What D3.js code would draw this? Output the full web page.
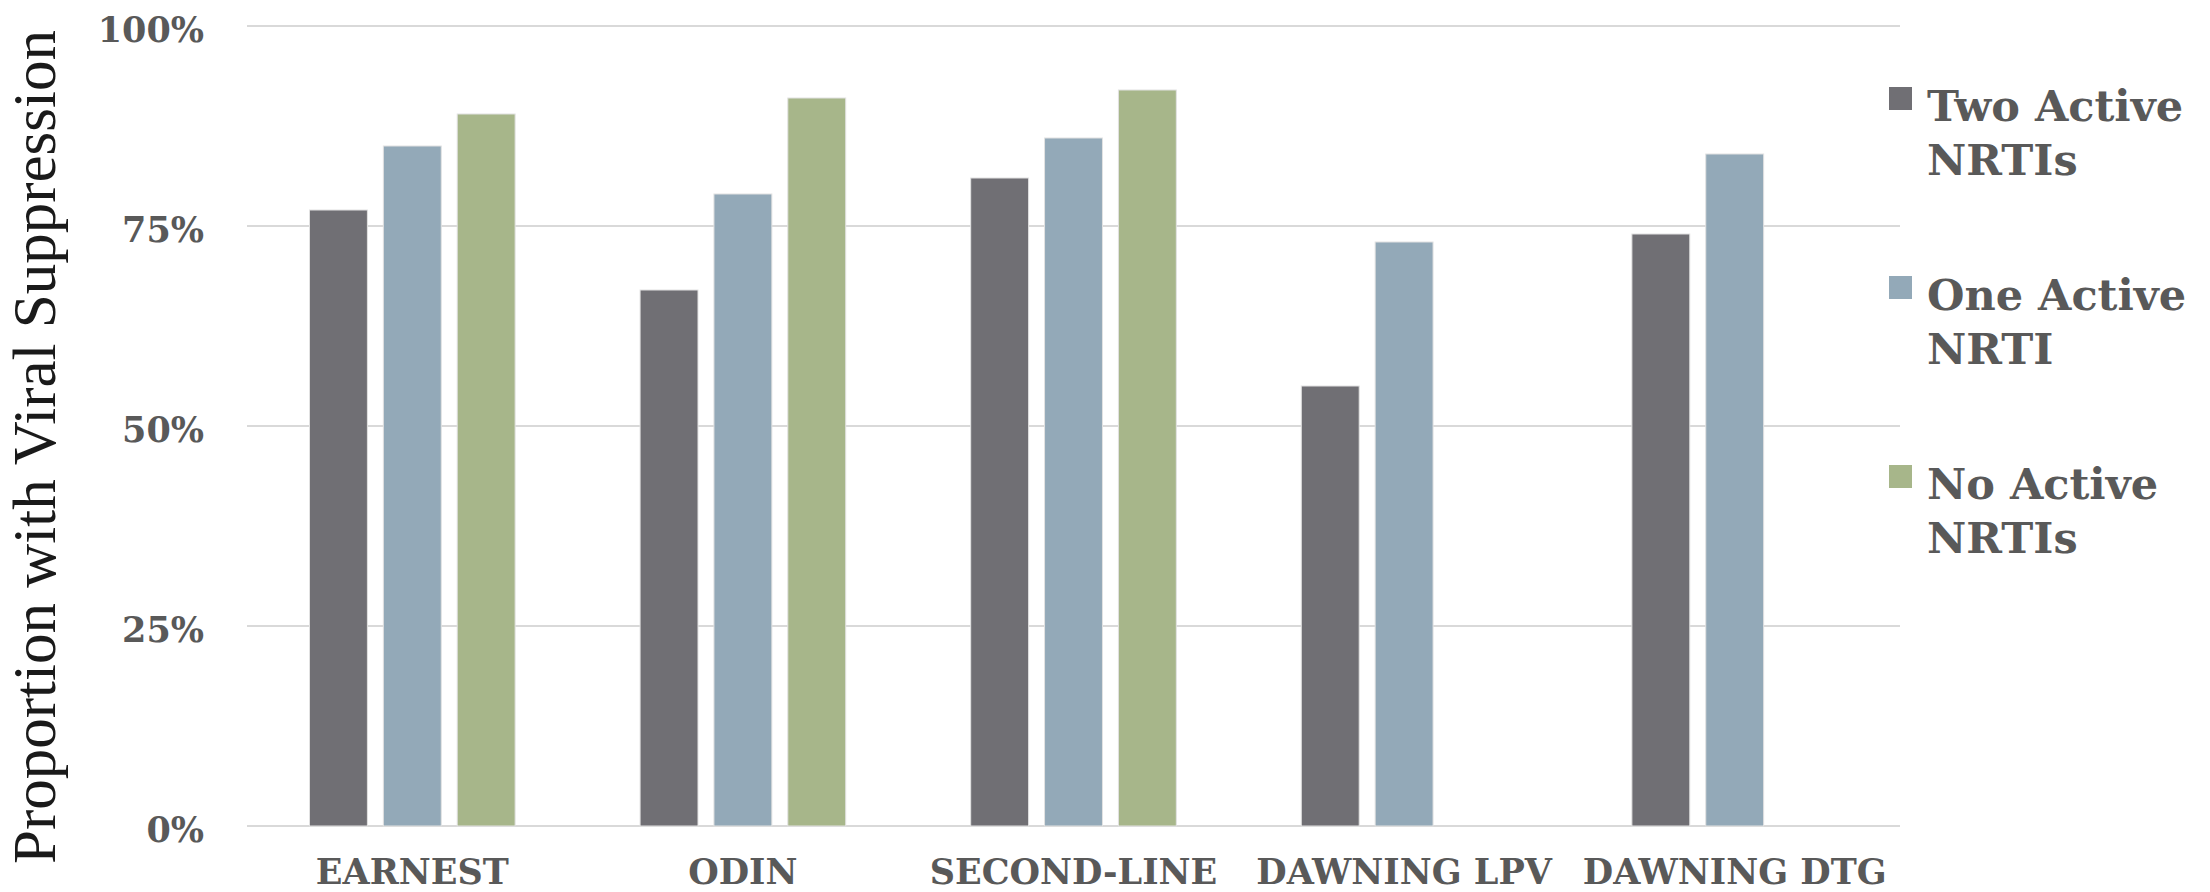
<!DOCTYPE html>
<html>
<head>
<meta charset="utf-8">
<script src="https://cdn.jsdelivr.net/npm/d3@7"></script>
<style>
  html, body { margin: 0; padding: 0; background: #ffffff; }
  svg { display: block; }
</style>
</head>
<body>
<svg id="chart" width="2210" height="892"></svg>
<script>
// Trial groups on the x axis
const categories = ["EARNEST", "ODIN", "SECOND-LINE", "DAWNING LPV", "DAWNING DTG"];

// Series: proportion (%) with viral suppression by number of active NRTIs
const seriesNames = ["Two Active NRTIs", "One Active NRTI", "No Active NRTIs"];
const twoActive = [77, 67, 81, 55, 74];
const oneActive = [85, 79, 86, 73, 84];
const noActive  = [89, 91, 92, null, null];

// Legend labels split over two lines
const legendLines = [["Two Active", "NRTIs"], ["One Active", "NRTI"], ["No Active", "NRTIs"]];

// Y axis ticks
const yTicks = [0, 25, 50, 75, 100];

const seriesValues = [twoActive, oneActive, noActive];
const colors = ["#706f74", "#93a9b8", "#a7b68a"];
const textColor = "#595959";
const boldFont = "'DejaVu Serif', serif";

const svg = d3.select("#chart");

const plot = { left: 247, right: 1900, top: 26, bottom: 826 };

const y = d3.scaleLinear().domain([0, 100]).range([plot.bottom, plot.top]);
const x0 = d3.scaleBand().domain(categories).range([plot.left, plot.right]).padding(0);
const groupInset = x0.bandwidth() * 0.189;
const x1 = d3.scaleBand()
  .domain(d3.range(seriesNames.length))
  .range([groupInset, x0.bandwidth() - groupInset])
  .paddingInner(0.216)
  .paddingOuter(0);

// Horizontal gridlines
svg.append("g")
  .selectAll("line")
  .data(yTicks)
  .join("line")
  .attr("x1", plot.left)
  .attr("x2", plot.right)
  .attr("y1", d => y(d))
  .attr("y2", d => y(d))
  .attr("stroke", "#d9d9d9")
  .attr("stroke-width", 2);

// Y tick labels
svg.append("g")
  .selectAll("text")
  .data(yTicks)
  .join("text")
  .attr("x", 204)
  .attr("y", d => y(d) + 3)
  .attr("dy", "0.36em")
  .attr("text-anchor", "end")
  .attr("font-family", boldFont)
  .attr("font-weight", "bold")
  .attr("font-size", 35)
  .attr("fill", textColor)
  .text(d => d + "%");

// Bars
const barData = [];
categories.forEach((c, ci) => {
  seriesValues.forEach((vals, si) => {
    if (vals[ci] != null) barData.push({ cat: c, s: si, v: vals[ci] });
  });
});

svg.append("g")
  .selectAll("rect")
  .data(barData)
  .join("rect")
  .attr("x", d => x0(d.cat) + x1(d.s))
  .attr("width", x1.bandwidth())
  .attr("y", d => y(d.v))
  .attr("height", d => y(0) - y(d.v))
  .attr("fill", d => colors[d.s])
  .attr("stroke", "#e2e2e2")
  .attr("stroke-width", 1);

// Category labels
svg.append("g")
  .selectAll("text")
  .data(categories)
  .join("text")
  .attr("x", d => x0(d) + x0.bandwidth() / 2)
  .attr("y", 884)
  .attr("text-anchor", "middle")
  .attr("font-family", boldFont)
  .attr("font-weight", "bold")
  .attr("font-size", 35)
  .attr("fill", textColor)
  .text(d => d);

// Y axis title
svg.append("text")
  .attr("transform", "translate(55,447) rotate(-90)")
  .attr("text-anchor", "middle")
  .attr("font-family", "'Liberation Serif', serif")
  .attr("font-size", 61)
  .attr("fill", "#1a1a1a")
  .text("Proportion with Viral Suppression");

// Legend
const legend = svg.append("g");
const item = legend.selectAll("g")
  .data(seriesNames)
  .join("g")
  .attr("transform", (d, i) => `translate(0,${i * 189})`);

item.append("rect")
  .attr("x", 1889)
  .attr("y", 87)
  .attr("width", 23)
  .attr("height", 23)
  .attr("fill", (d, i) => colors[i]);

item.append("text")
  .attr("font-family", boldFont)
  .attr("font-weight", "bold")
  .attr("font-size", 43)
  .attr("fill", textColor)
  .selectAll("tspan")
  .data((d, i) => legendLines[i])
  .join("tspan")
  .attr("x", 1927)
  .attr("y", (d, j) => 121 + j * 54)
  .text(d => d);
</script>
</body>
</html>
